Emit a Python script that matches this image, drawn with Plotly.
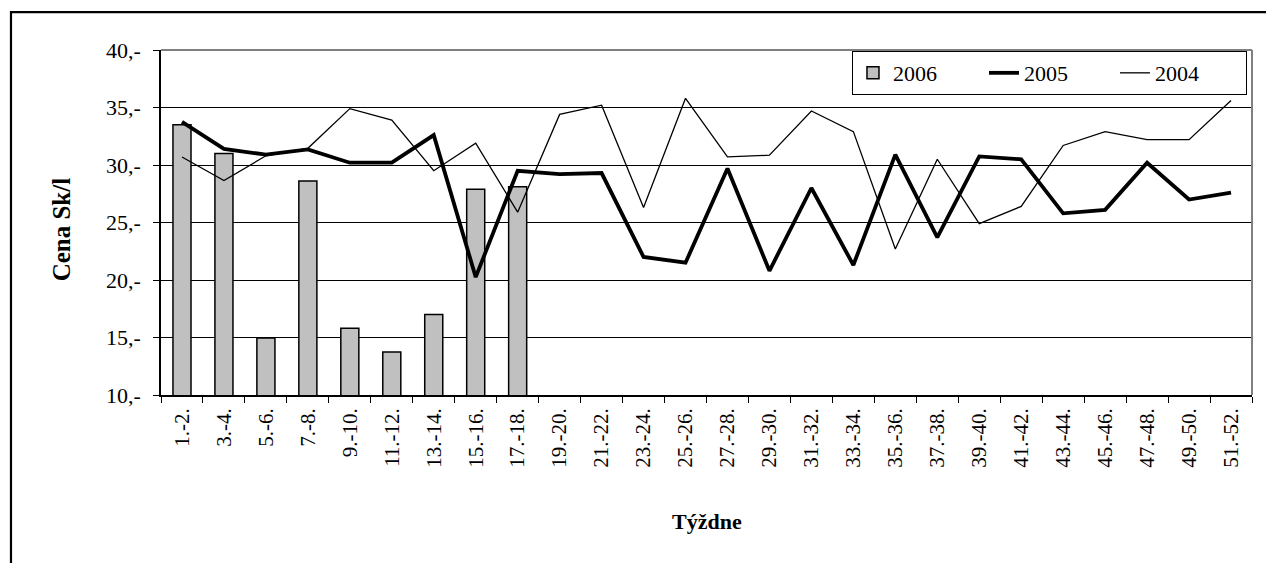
import plotly.graph_objects as go

weeks = ["1.-2.", "3.-4.", "5.-6.", "7.-8.", "9.-10.", "11.-12.", "13.-14.", "15.-16.",
         "17.-18.", "19.-20.", "21.-22.", "23.-24.", "25.-26.", "27.-28.", "29.-30.",
         "31.-32.", "33.-34.", "35.-36.", "37.-38.", "39.-40.", "41.-42.", "43.-44.",
         "45.-46.", "47.-48.", "49.-50.", "51.-52."]

price_2006 = [33.5, 31.0, 14.95, 28.6, 15.8, 13.75, 17.0, 27.9, 28.1]
price_2005 = [33.75, 31.4, 30.9, 31.35, 30.2, 30.2, 32.6, 20.25, 29.5, 29.2, 29.3,
              22.0, 21.5, 29.7, 20.8, 28.0, 21.3, 30.9, 23.7, 30.75, 30.5, 25.8,
              26.1, 30.2, 27.0, 27.6]
price_2004 = [30.7, 28.65, 30.8, 31.45, 34.9, 33.9, 29.5, 31.9, 25.9, 34.4, 35.2,
              26.3, 35.8, 30.7, 30.85, 34.7, 32.9, 22.7, 30.5, 24.9, 26.4, 31.7,
              32.9, 32.2, 32.2, 35.6]

y_ticks = [10, 15, 20, 25, 30, 35, 40]
y_ticktext = ["10,-", "15,-", "20,-", "25,-", "30,-", "35,-", "40,-"]

FONT = "Liberation Serif"

fig = go.Figure()
fig.add_trace(go.Bar(x=weeks[:len(price_2006)], y=price_2006, name="2006",
                     marker=dict(color="#c0c0c0", line=dict(color="black", width=1.5))))
fig.add_trace(go.Scatter(x=weeks, y=price_2005, name="2005", mode="lines",
                         line=dict(color="black", width=3.8)))
fig.add_trace(go.Scatter(x=weeks, y=price_2004, name="2004", mode="lines",
                         line=dict(color="black", width=1.3)))

fig.update_layout(
    width=1266, height=555,
    margin=dict(l=153, r=22, t=42, b=168),
    paper_bgcolor="white", plot_bgcolor="white",
    font=dict(family=FONT, size=20, color="black"),
    bargap=0.57,
    showlegend=True,
    legend=dict(orientation="h", x=0.9954, xanchor="right", y=0.997, yanchor="top",
                bordercolor="black", borderwidth=1, bgcolor="white",
                font=dict(family=FONT, size=22, color="black"),
                entrywidth=86, traceorder="normal"),
    xaxis=dict(type="category", range=[-0.5, 25.5], tickson="boundaries",
               ticks="outside", ticklen=6, tickcolor="black", tickwidth=1,
               showline=True, linecolor="black", linewidth=1.5,
               showgrid=False, tickangle=-90, fixedrange=True,
               ticklabelstandoff=3,
               tickfont=dict(family=FONT, size=21, color="black")),
    yaxis=dict(range=[10, 40], tickvals=y_ticks, ticktext=y_ticktext,
               ticks="outside", ticklen=6, tickcolor="black",
               showline=True, linecolor="black", linewidth=1.5,
               showgrid=True, gridcolor="black", gridwidth=1, zeroline=False,
               ticklabelstandoff=8,
               tickfont=dict(family=FONT, size=22, color="black")),
    shapes=[
        dict(type="line", xref="paper", yref="paper", x0=0, x1=1, y0=1, y1=1,
             line=dict(color="#808080", width=2), layer="above"),
        dict(type="line", xref="paper", yref="paper", x0=1, x1=1, y0=0, y1=1,
             line=dict(color="#808080", width=2), layer="above"),
        dict(type="rect", xref="paper", yref="paper", x0=-0.1375, x1=1.3, y0=-1.0, y1=1.110,
             line=dict(color="black", width=2.2), fillcolor="rgba(0,0,0,0)", layer="above"),
    ],
    annotations=[
        dict(text="<b>Cena Sk/l</b>", xref="paper", yref="paper", x=-0.0917, y=0.48,
             textangle=-90, showarrow=False, xanchor="center", yanchor="middle",
             font=dict(family=FONT, size=25, color="black")),
        dict(text="<b>Týždne</b>", xref="paper", yref="paper", x=0.5, y=-0.368,
             showarrow=False, xanchor="center", yanchor="middle",
             font=dict(family=FONT, size=22, color="black")),
    ],
)

fig.write_html("out.html")
